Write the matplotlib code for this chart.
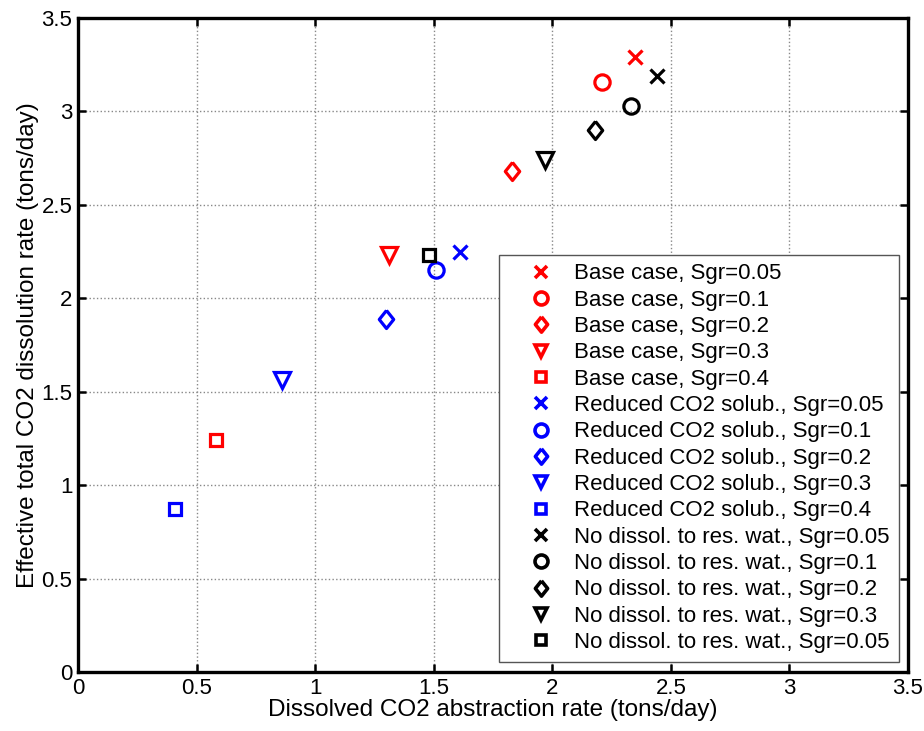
import matplotlib.pyplot as plt

plt.rcParams['font.family'] = ['Liberation Sans', 'DejaVu Sans']

# abstraction rate (x) vs effective dissolution rate (y), tons/day
sgr = ['0.05', '0.1', '0.2', '0.3', '0.4']
base_x = [2.35, 2.21, 1.83, 1.31, 0.58]
base_y = [3.29, 3.16, 2.68, 2.23, 1.24]
reduced_x = [1.61, 1.51, 1.30, 0.86, 0.41]
reduced_y = [2.25, 2.15, 1.89, 1.56, 0.87]
nodiss_x = [2.44, 2.33, 2.18, 1.97, 1.48]
nodiss_y = [3.19, 3.03, 2.90, 2.74, 2.23]
nodiss_sgr = ['0.05', '0.1', '0.2', '0.3', '0.05']

# taller-than-wide diamond like the MATLAB one
diamond = [(0, 1), (0.8, 0), (0, -1), (-0.8, 0), (0, 1)]
markers = ['x', 'o', diamond, 'v', 's']
sizes = [10, 11, 13, 11, 9]

groups = [
    ('Base case', base_x, base_y, sgr, 'red'),
    ('Reduced CO2 solub.', reduced_x, reduced_y, sgr, 'blue'),
    ('No dissol. to res. wat.', nodiss_x, nodiss_y, nodiss_sgr, 'black'),
]

fig = plt.figure(figsize=(9.24, 7.31), dpi=100)
ax = fig.add_axes([0.0844, 0.0807, 0.8983, 0.8947])

for name, xs, ys, labels, color in groups:
    for x, y, s, m, ms in zip(xs, ys, labels, markers, sizes):
        ax.plot(x, y, linestyle='none', marker=m, markersize=ms,
                markerfacecolor='none', markeredgecolor=color,
                markeredgewidth=2.3, label='{}, Sgr={}'.format(name, s))

ticks = [0, 0.5, 1, 1.5, 2, 2.5, 3, 3.5]
tick_labels = ['0', '0.5', '1', '1.5', '2', '2.5', '3', '3.5']
ax.set_xlim(0, 3.5)
ax.set_ylim(0, 3.5)
ax.set_xticks(ticks)
ax.set_yticks(ticks)
ax.set_xticklabels(tick_labels)
ax.set_yticklabels(tick_labels)
ax.grid(True, linestyle=':', color='#888888', linewidth=1.0)
ax.tick_params(direction='in', length=6, width=1.8, labelsize=16, pad=4,
               top=True, right=True)
for sp in ax.spines.values():
    sp.set_linewidth(2.4)

ax.set_xlabel('Dissolved CO2 abstraction rate (tons/day)', fontsize=17.5,
              labelpad=0)
ax.set_ylabel('Effective total CO2 dissolution rate (tons/day)', fontsize=17.5,
              labelpad=2)

leg = ax.legend(loc='lower right', fontsize=16, frameon=True, fancybox=False,
                edgecolor='#555555', framealpha=1, borderpad=0.4,
                labelspacing=0.24, handletextpad=0.0, handlelength=3.0,
                markerscale=0.85, borderaxespad=0,
                bbox_to_anchor=(0.989, 0.0153))
leg.get_frame().set_linewidth(1.0)
for h in leg.legend_handles:
    h.set_markeredgewidth(2.6)

fig.savefig('out.png', dpi=100)
